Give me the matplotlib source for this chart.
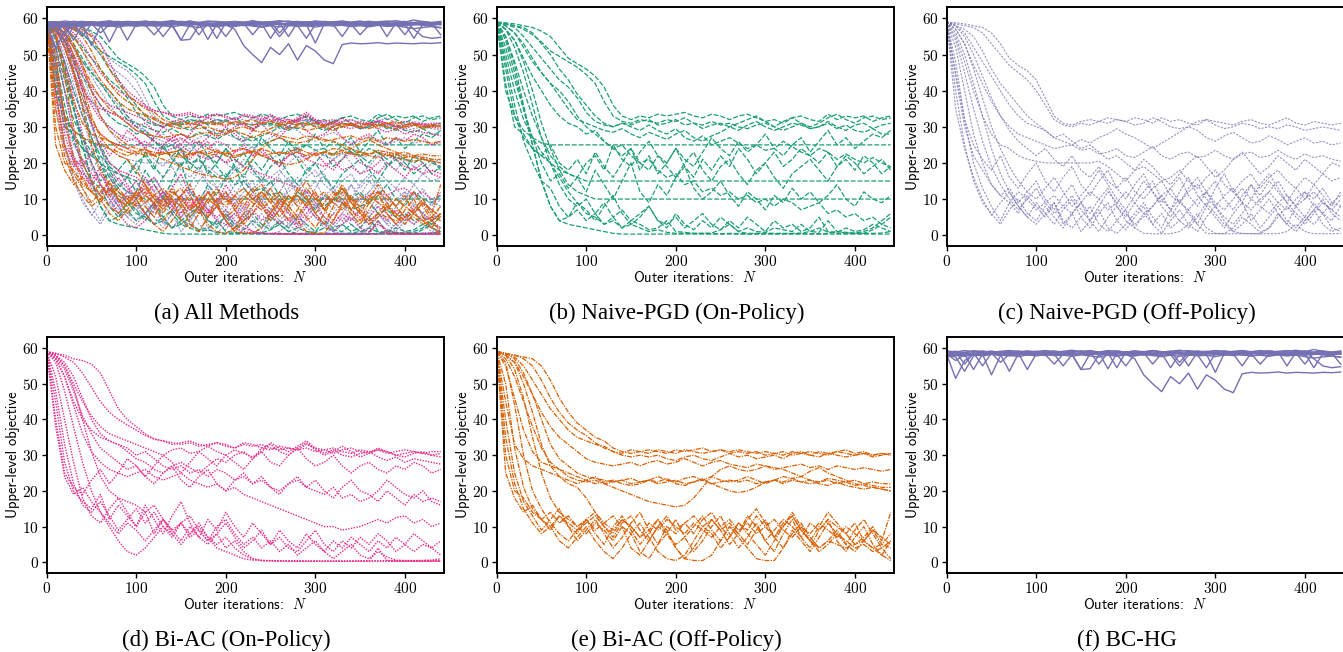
import numpy as np
import matplotlib.pyplot as plt

plt.rcParams["font.family"] = "cmr10"
plt.rcParams["mathtext.fontset"] = "cm"
plt.rcParams["axes.formatter.use_mathtext"] = True

# outer iterations at which each run was sampled
ITERS = np.arange(0, 450, 10)

# Naive-PGD (On-Policy) runs, upper-level objective
NAIVE_ON = [
    [59, 58.8, 58.5, 58, 57.5, 56.5, 55, 52, 49,
     47.5, 46, 44, 41, 36, 33, 32, 33, 32.5,
     33.5, 33, 33.5, 34, 33, 32.5, 33.5, 33, 32,
     33, 33.5, 32.5, 31.5, 32, 31, 32.5, 33, 32,
     31.5, 33.5, 32, 33, 32.5, 33, 31.5, 32.5, 33],
    [59, 58.5, 58, 57, 55.5, 53.5, 51, 49.5, 48,
     46.5, 44.5, 42, 37, 33, 31.5, 31, 32, 31.5,
     31, 32, 31.5, 32.5, 31, 30.5, 31.5, 30.5, 31,
     30, 29.5, 30.5, 31, 30, 29, 30, 31, 29.5,
     30, 31, 29.5, 30.5, 29, 28.5, 29.5, 28, 28],
    [59, 58.5, 57.5, 55, 52, 49, 46, 43, 41,
     38, 34, 31.5, 30.5, 30, 31, 30.5, 31.5, 32,
     30.5, 31, 32, 30.5, 31, 29.5, 30.5, 31, 30,
     29, 30.5, 31.5, 30, 29, 30, 31, 30.5, 29.5,
     30, 31.5, 30, 29, 30.5, 31, 29.5, 30.5, 31],
    [59, 58, 56, 52, 48, 45, 42, 38.5, 35,
     32, 31, 30, 29, 28.5, 29.5, 28, 27, 28.5,
     27.5, 26.5, 28, 29, 27, 26, 27.5, 28.5, 30,
     31, 32, 33, 31.5, 30, 31.5, 32.5, 31, 30,
     31, 32.5, 33.5, 32, 31, 32.5, 33, 32, 32.5],
    [59, 46, 33, 29, 27, 25.5, 25, 25, 25,
     25, 25, 25, 25, 25, 25, 25, 25, 25,
     25, 25, 25, 25, 25, 25, 25, 25, 25,
     25, 25, 25, 25, 25, 25, 25, 25, 25,
     25, 25, 25, 25, 25, 25, 25, 25, 25],
    [59, 55, 48, 40, 33, 27, 22, 19, 17,
     16, 15, 15, 15, 15, 15, 15, 15, 15,
     15, 15, 15, 15, 15, 15, 15, 15, 15,
     15, 15, 15, 15, 15, 15, 15, 15, 15,
     15, 15, 15, 15, 15, 15, 15, 15, 15],
    [59, 57, 54, 48, 40, 31, 24, 18, 14,
     12, 11, 10, 10, 10, 10, 10, 10, 10,
     10, 10, 10, 10, 10, 10, 10, 10, 10,
     10, 10, 10, 10, 10, 10, 10, 10, 10,
     10, 10, 10, 10, 10, 10, 10, 10, 10],
    [59, 54, 45, 35, 25, 15, 8, 4, 3,
     2.5, 2, 1.5, 1, 0.5, 0.3, 0.3, 0.3, 0.3,
     0.3, 0.3, 0.3, 0.3, 0.3, 0.3, 0.3, 0.3, 0.3,
     0.3, 0.3, 0.3, 0.3, 0.3, 0.3, 0.3, 0.3, 0.3,
     0.3, 0.3, 0.3, 0.3, 0.3, 0.3, 0.3, 0.3, 0.3],
    [59, 42, 30, 28, 24, 22, 25, 20, 18,
     21, 17, 23, 19, 16, 20, 24, 18, 22,
     17, 20, 24, 19, 16, 21, 18, 22, 19,
     24, 21, 17, 20, 23, 19, 21, 24, 22,
     20, 23, 19, 21, 18, 22, 20, 17, 19],
    [59, 52, 43, 35, 27, 20, 15, 17, 13,
     16, 12, 18, 14, 10, 15, 20, 12, 9,
     14, 11, 16, 19, 13, 10, 12, 15, 11,
     8, 12, 10, 7, 11, 9, 13, 10, 12,
     9, 11, 14, 10, 8, 12, 10, 9, 11],
    [59, 55, 47, 36, 25, 15, 8, 4, 5,
     7, 4, 6, 3, 5, 2, 4, 3, 1.5,
     2, 4, 1, 0.8, 0.5, 0.5, 0.6, 1.5, 3,
     1, 0.5, 0.5, 0.6, 0.5, 0.5, 0.5, 0.6, 1,
     2, 0.8, 0.5, 0.5, 0.6, 1, 2, 4, 6],
    [59, 57, 52, 45, 36, 27, 20, 14, 10,
     8, 10, 6, 9, 5, 7, 4, 6, 8,
     4, 3, 5, 2, 4, 6, 3, 1.5, 4,
     2, 5, 3, 1, 4, 2, 3, 1, 2,
     5, 1, 0.8, 2, 1, 1.5, 3, 2, 1],
    [59, 40, 33, 27, 24, 22, 20, 18, 17,
     16, 20, 22, 18, 25, 21, 19, 23, 26,
     22, 20, 24, 21, 19, 23, 27, 24, 22,
     26, 23, 25, 28, 24, 22, 25, 27, 23,
     26, 29, 25, 27, 24, 26, 28, 27, 29],
    [59, 50, 40, 32, 27, 23, 20, 16, 12,
     9, 6, 5, 3, 4, 2, 3, 2, 1,
     1.5, 0.8, 0.5, 0.5, 0.5, 0.5, 0.4, 0.4, 0.5,
     0.4, 0.4, 0.4, 0.4, 0.4, 0.4, 0.4, 0.4, 0.4,
     0.4, 0.5, 1, 0.8, 0.5, 0.5, 0.5, 0.6, 1],
    [59, 58, 56, 53, 49, 45, 42, 40, 37,
     33, 30, 28, 26, 24, 22, 24, 20, 18,
     22, 19, 16, 20, 23, 18, 15, 19, 21,
     17, 14, 18, 20, 16, 13, 17, 19, 21,
     18, 15, 19, 22, 20, 17, 19, 21, 18],
    [59, 57, 54, 49, 44, 40, 36, 33, 31,
     30, 28, 29, 26, 24, 25, 22, 20, 21,
     18, 16, 17, 14, 15, 12, 13, 11, 12,
     10, 11, 9, 10, 8, 10, 9, 7, 8,
     9, 6, 7, 5, 6, 4, 5, 3, 2],
    [59, 48, 36, 26, 20, 15, 13, 8, 5,
     9, 7, 4, 8, 11, 6, 3, 5, 8,
     4, 2, 6, 3, 1.5, 4, 2, 5, 3,
     1, 2, 1, 0.8, 2, 1.5, 1, 3, 1,
     0.8, 4, 1, 0.6, 0.5, 0.5, 1.5, 3, 5],
    [59, 58.5, 58, 57.5, 56, 53, 50, 46, 43,
     39, 36, 33, 31, 30, 31, 30, 29, 30.5,
     29, 28, 29.5, 27, 26, 27.5, 25, 26, 27,
     25.5, 24, 25, 23.5, 24, 26, 24.5, 23, 22,
     24, 23, 21, 22.5, 21, 20, 21.5, 20, 19],
]

# Naive-PGD (Off-Policy) runs
NAIVE_OFF = [
    [59, 58.8, 58.5, 58, 57.5, 56, 53, 49, 47,
     45.5, 43, 38, 33, 31, 30.5, 31.5, 32, 31.5,
     32.5, 32, 31.5, 32.5, 32, 31, 32.5, 31.5, 32,
     31, 30.5, 32, 31.5, 31, 30.5, 31.5, 32, 31,
     30.5, 31.5, 32.5, 31, 30.5, 31.5, 31, 30.5, 31],
    [59, 58.5, 58, 57.5, 56, 53, 50, 47, 45,
     43, 40, 36, 32, 30.5, 30, 31, 30.5, 31.5,
     31, 32, 31.5, 30.5, 31, 32.5, 31.5, 30, 29.5,
     30, 31.5, 32, 30.5, 29.5, 30, 31, 30.5, 29.5,
     30, 29.5, 30.5, 30, 29, 29.5, 30, 29.5, 29],
    [59, 58, 56, 52, 48, 44, 40, 36, 33,
     31, 30, 29, 27, 26, 25, 26.5, 25.5, 27,
     28, 29.5, 28, 27, 25.5, 24, 25.5, 27, 28.5,
     30, 29, 27, 26, 27.5, 28.5, 27, 25.5, 26,
     27.5, 26.5, 25, 26, 27, 25.5, 26, 25, 25.5],
    [59, 57, 53, 47, 42, 37, 33, 30, 28,
     27, 26, 25, 24, 24.5, 25, 23.5, 24, 22.5,
     23, 24, 22, 21.5, 23, 24.5, 22, 21, 22.5,
     23, 21.5, 22, 23.5, 22, 21, 22.5, 23, 21.5,
     22, 23.5, 22, 21, 22.5, 21.5, 22, 21, 20.5],
    [59, 55, 48, 40, 33, 28, 25, 24, 22,
     21, 20.5, 20, 20, 20, 20, 20, 20, 20.5,
     19, 17, 15, 18, 21, 19, 16, 14, 17,
     20, 22, 19, 16, 18, 21, 23, 20, 17,
     19, 22, 20, 18, 21, 19, 17, 20, 19],
    [59, 35, 24, 16, 10, 5.5, 9, 12, 8,
     5, 9, 6, 3, 7, 10, 5, 2, 6,
     9, 4, 1.5, 5, 8, 3, 6, 2, 4,
     7, 3, 0.5, 0.4, 0.4, 2, 5, 3, 0.8,
     2, 6, 3, 1, 4, 7, 3, 1, 2],
    [59, 48, 32, 20, 13, 8, 4, 9, 6,
     11, 8, 5, 9, 3, 6, 1, 4, 7,
     2, 0.5, 3, 6, 9, 5, 2, 7, 10,
     6, 3, 8, 5, 2, 6, 9, 4, 7,
     10, 6, 3, 8, 5, 9, 6, 4, 8],
    [59, 52, 40, 28, 20, 14, 11, 13, 9,
     12, 15, 10, 7, 11, 14, 9, 6, 10,
     13, 8, 5, 9, 12, 15, 10, 7, 12,
     16, 11, 8, 13, 17, 12, 9, 14, 11,
     15, 12, 9, 13, 10, 14, 11, 8, 12],
    [59, 56, 50, 42, 33, 24, 17, 12, 8,
     5, 3, 6, 9, 4, 2, 5, 8, 3,
     1, 4, 7, 2, 0.5, 0.4, 0.4, 0.4, 1,
     3, 6, 2, 0.5, 0.4, 0.4, 0.4, 0.4, 0.4,
     0.4, 0.4, 1, 3, 1, 0.4, 0.4, 0.4, 0.5],
    [59, 45, 32, 25, 21, 18, 22, 16, 13,
     17, 20, 15, 12, 16, 19, 14, 11, 15,
     18, 13, 10, 14, 17, 12, 9, 13, 16,
     11, 8, 12, 15, 10, 7, 11, 14, 9,
     12, 15, 11, 8, 12, 10, 13, 9, 11],
    [59, 57, 53, 46, 38, 30, 24, 19, 15,
     12, 10, 13, 16, 12, 8, 11, 14, 18,
     14, 10, 7, 11, 15, 12, 8, 5, 9,
     13, 16, 12, 8, 5, 3, 6, 10, 14,
     17, 13, 9, 6, 4, 7, 10, 6, 4],
    [59, 58, 57, 55, 51, 46, 42, 39, 36,
     33, 31, 29, 27, 28, 26, 24, 25, 23,
     21, 22, 20, 18, 19, 17, 15, 16, 18,
     15, 13, 16, 18, 14, 12, 15, 17, 13,
     16, 18, 15, 13, 16, 14, 17, 15, 16],
    [59, 40, 25, 15, 9, 6, 3, 7, 10,
     6, 4, 8, 5, 2, 6, 9, 4, 1,
     5, 8, 4, 2, 6, 3, 0.5, 4, 7,
     3, 1, 5, 8, 4, 1, 3, 6, 2,
     5, 8, 4, 2, 5, 3, 6, 2, 1],
    [59, 54, 45, 35, 26, 19, 14, 10, 7,
     10, 13, 9, 6, 8, 11, 7, 4, 8,
     12, 9, 6, 3, 5, 8, 11, 7, 4,
     2, 5, 9, 6, 3, 1, 0.5, 0.4, 0.4,
     2, 5, 8, 5, 3, 6, 9, 7, 5],
    [59, 58, 55, 50, 44, 38, 33, 29, 26,
     24, 22, 24, 21, 19, 22, 18, 16, 19,
     15, 13, 16, 12, 10, 13, 15, 11, 9,
     12, 14, 10, 8, 11, 13, 9, 7, 10,
     12, 9, 7, 10, 12, 8, 6, 9, 8],
    [59, 44, 30, 22, 18, 14, 11, 9, 12,
     10, 7, 9, 11, 8, 6, 9, 12, 10,
     7, 9, 12, 9, 6, 8, 11, 13, 9,
     7, 10, 12, 9, 7, 10, 13, 10, 8,
     6, 9, 11, 8, 10, 12, 9, 7, 10],
]

# Bi-AC (On-Policy) runs
BIAC_ON = [
    [59, 58.5, 58, 57, 56.5, 55.5, 53, 48, 43,
     40, 38, 36, 34.5, 34, 33.5, 33, 33.5, 32.5,
     33, 33.5, 32.5, 32, 33, 32.5, 33, 32, 31.5,
     32, 31.5, 32, 31, 31.5, 32, 31, 30.5, 31.5,
     31, 31.5, 30.5, 31, 31.5, 31, 30.5, 31, 31],
    [59, 58.5, 57.5, 56, 53, 49, 45, 42, 40,
     38.5, 37, 35.5, 34.5, 34, 33, 33.5, 34, 33,
     32.5, 33.5, 33, 32, 33.5, 33, 32, 31.5, 32.5,
     32, 31.5, 33, 32, 31.5, 30.5, 31.5, 32, 31,
     30.5, 31.5, 31, 30, 30.5, 31, 30.5, 30, 30.5],
    [59, 58, 55, 50, 45, 41, 38, 36, 35,
     34, 33, 32, 31, 30, 31.5, 32, 30.5, 31,
     32.5, 31, 30, 31.5, 30.5, 29.5, 31, 33.5, 32,
     31, 32.5, 34, 32, 30.5, 31.5, 30, 29.5, 30.5,
     31, 29.5, 28.5, 29.5, 28, 29, 28.5, 28, 27.5],
    [59, 57, 52, 45, 40, 37, 35, 34, 33,
     31, 29, 28, 26, 25, 27, 28, 26.5, 25,
     27, 29, 28, 30, 31, 29, 32, 33, 31,
     30, 32, 33.5, 31.5, 30, 31, 32.5, 31, 29.5,
     30.5, 32, 31, 30, 29.5, 30.5, 31, 30, 29.5],
    [59, 40, 25, 21, 19, 23, 26, 22, 25,
     29, 27, 24, 27, 30, 28, 25, 28, 31,
     29, 27, 30, 28, 26, 29, 31, 28, 27,
     30, 32, 29, 27, 28, 30, 27, 25, 27,
     28, 26, 25, 27, 26, 28, 27, 25, 26],
    [59, 45, 28, 20, 17, 15, 19, 12, 16,
     13, 10, 14, 8, 12, 9, 6, 10, 7,
     5, 8, 4, 6, 3, 1, 0.5, 0.4, 0.3,
     0.3, 0.3, 0.3, 0.3, 0.3, 0.3, 0.3, 0.3, 0.3,
     0.3, 0.3, 0.3, 0.3, 0.3, 0.3, 0.3, 0.3, 0.3],
    [59, 52, 40, 28, 18, 13, 11, 15, 18,
     14, 10, 16, 12, 8, 13, 17, 11, 7,
     12, 9, 14, 10, 7, 11, 8, 5, 9,
     6, 4, 8, 5, 3, 6, 4, 7, 5,
     3, 6, 4, 7, 5, 3, 5, 4, 2],
    [59, 56, 48, 38, 28, 20, 14, 10, 6,
     3, 2, 4, 7, 10, 8, 11, 7, 9,
     6, 8, 11, 7, 4, 6, 9, 5, 7,
     4, 3, 6, 9, 5, 3, 6, 4, 7,
     5, 8, 6, 3, 5, 8, 6, 4, 6],
    [59, 57.5, 54, 48, 41, 36, 32, 30, 28,
     26, 27, 24, 22, 25, 27, 23, 21, 24,
     26, 22, 20, 23, 25, 22, 24, 21, 19,
     22, 24, 21, 23, 20, 18, 21, 23, 20,
     19, 17, 20, 18, 16, 19, 17, 18, 17],
    [59, 58, 55, 49, 40, 31, 24, 20, 18,
     17, 16, 14, 16, 12, 9, 11, 8, 10,
     7, 5, 7, 4, 2, 1, 0.5, 0.5, 0.4,
     0.3, 0.3, 0.3, 0.3, 0.3, 0.3, 0.3, 0.3, 0.4,
     0.4, 0.4, 0.5, 0.4, 0.4, 0.4, 0.5, 0.6, 1],
    [59, 57, 52, 44, 36, 31, 28, 26, 25,
     24, 25, 26, 24, 23, 24, 25, 23, 22,
     21, 22, 20, 21, 19, 18, 17, 16, 15,
     14, 13, 12, 11, 10, 10, 9, 9.5, 10,
     11, 12, 11, 12.5, 13, 11, 12, 10, 11],
    [59, 48, 33, 22, 16, 14, 17, 13, 9,
     12, 15, 11, 14, 10, 7, 11, 13, 9,
     6, 10, 12, 8, 5, 7, 4, 6, 3,
     5, 2, 4, 6, 3, 1, 3, 5, 2,
     1, 3, 1.5, 0.6, 0.5, 0.5, 0.5, 0.5, 0.5],
    [59, 58, 56, 52, 46, 40, 36, 34, 33,
     32, 30, 31, 29, 27, 26, 27, 25, 26,
     24, 26, 25, 23, 24, 22, 23, 21, 20,
     22, 23, 21, 20, 19, 21, 18, 19, 17,
     18, 20, 23, 21, 19, 18, 20, 17, 16],
    [59, 38, 24, 19, 21, 17, 14, 11, 8,
     11, 9, 6, 9, 12, 8, 5, 8, 11,
     7, 4, 3, 2, 1, 0.6, 0.5, 0.4, 0.4,
     0.4, 0.4, 0.3, 0.3, 0.3, 0.3, 0.3, 0.3, 0.3,
     0.3, 4, 0.5, 0.3, 0.3, 0.3, 0.3, 0.3, 0.3],
]

# Bi-AC (Off-Policy) runs
BIAC_OFF = [
    [59, 58.5, 58, 57.5, 57, 55, 51, 46, 42,
     39, 37, 35, 34, 32, 31, 30.5, 31, 31.5,
     31, 30.5, 31.5, 31, 31.5, 32, 31, 31.5, 31,
     31.5, 31, 30.5, 31, 30.5, 30, 31, 30.5, 30,
     31, 30.5, 31, 31.5, 30.5, 31, 30, 30.5, 30],
    [59, 58.5, 58, 57, 55, 51, 46, 42, 39,
     37, 35.5, 33.5, 32, 31, 30.5, 31.5, 31, 30.5,
     31.5, 31, 30.5, 31.5, 31, 30.5, 31, 31.5, 30.5,
     31, 30.5, 31, 30, 30.5, 31, 30, 30.5, 31,
     30.5, 30, 31, 30.5, 30, 30.5, 30, 30.5, 30],
    [59, 58.5, 57.5, 55, 51, 47, 43, 40, 37,
     35, 34, 33, 32.5, 31, 30, 29.5, 30, 29.5,
     30, 29, 28.5, 29.5, 30, 29, 28.5, 29.5, 30.5,
     29.5, 30, 29, 29.5, 30, 29, 30.5, 31, 30,
     29.5, 30.5, 30, 29.5, 30, 30.5, 29.5, 30, 30.5],
    [59, 58, 56, 52, 47, 42, 38, 35, 33,
     31, 29, 28, 27.5, 27, 27.5, 28, 27, 28,
     28.5, 27.5, 28, 29, 28, 27, 28, 28.5, 27.5,
     27, 26.5, 27.5, 27, 26, 26.5, 27, 27.5, 26.5,
     27, 26, 27, 26.5, 26, 26.5, 26, 25.5, 26],
    [59, 57, 52, 45, 38, 32, 28, 26, 24,
     23, 22.5, 23, 22, 22.5, 23, 22, 22.5, 23,
     22, 22.5, 23, 22, 22.5, 23.5, 22, 22.5, 23,
     22.5, 23, 22, 22.5, 23, 22, 23, 22.5, 22,
     22.5, 23, 22, 22.5, 21.5, 22, 21.5, 21, 21],
    [59, 55, 46, 37, 31, 28, 27, 26, 25,
     24, 23, 22, 22.5, 23, 22, 21.5, 22, 23,
     22.5, 23.5, 22, 21.5, 22.5, 23, 24, 23, 22.5,
     23, 24, 23, 22, 23, 24, 23.5, 22.5, 23,
     22, 21.5, 22.5, 21.5, 21, 20.5, 21, 20.5, 20],
    [59, 45, 33, 29, 27, 26, 25, 24, 23,
     22, 23, 24, 22, 21, 20, 19, 18, 17,
     16.5, 16, 15.5, 16, 18, 21, 24, 26, 27,
     26, 25.5, 26, 27, 26.5, 26, 25, 24, 25.5,
     26.5, 25, 24, 23, 22, 21.5, 21, 20.5, 20],
    [59, 58.5, 57, 53, 47, 40, 33, 29, 27,
     25, 24, 23.5, 23, 22.5, 23, 23.5, 22.5, 23,
     24, 23, 22.5, 23.5, 24, 23, 22, 21, 20,
     19.5, 20, 21, 22.5, 23, 22.5, 23.5, 24, 23,
     22.5, 23.5, 23, 22.5, 23, 22, 22.5, 22, 22],
    [59, 30, 20, 18, 14, 12, 10, 13, 11,
     9, 11, 13, 10, 8, 12, 10, 7, 11,
     9, 12, 10, 8, 11, 9, 7, 10, 12,
     9, 11, 8, 10, 12, 9, 7, 10, 8,
     11, 9, 7, 10, 8, 6, 9, 7, 5],
    [59, 40, 25, 17, 13, 9, 12, 15, 10,
     6, 9, 12, 8, 4, 7, 11, 14, 9,
     5, 8, 12, 7, 3, 6, 10, 13, 8,
     4, 7, 11, 6, 3, 8, 12, 7, 4,
     9, 12, 6, 3, 7, 10, 5, 2, 6],
    [59, 50, 32, 21, 15, 12, 14, 11, 13,
     10, 12, 9, 11, 13, 10, 8, 3, 1,
     5, 10, 8, 11, 13, 10, 12, 9, 11,
     8, 13, 10, 6, 9, 12, 10, 7, 11,
     9, 12, 10, 8, 11, 6, 9, 5, 8],
    [59, 56, 44, 30, 20, 15, 11, 8, 6,
     9, 12, 8, 5, 10, 13, 9, 5, 8,
     12, 9, 4, 1, 0.5, 0.5, 2, 6, 10,
     7, 4, 1, 0.5, 0.5, 4, 9, 6, 3,
     7, 11, 8, 5, 9, 12, 8, 4, 1],
    [59, 58, 54, 46, 35, 25, 18, 14, 12,
     10, 8, 11, 9, 6, 10, 4, 2, 6,
     10, 8, 4, 1, 4, 8, 12, 9, 5,
     8, 12, 15, 11, 7, 10, 13, 9, 6,
     10, 14, 11, 8, 5, 7, 10, 6, 14],
    [59, 58, 56, 50, 42, 33, 27, 24, 22,
     21, 18, 14, 11, 9, 12, 10, 7, 9,
     12, 8, 5, 7, 10, 13, 9, 6, 10,
     8, 5, 9, 12, 7, 4, 8, 11, 7,
     4, 6, 9, 5, 3, 6, 4, 2, 0.5],
    [59, 25, 18, 14, 16, 12, 9, 13, 10,
     8, 12, 14, 10, 7, 11, 13, 9, 6,
     10, 13, 9, 11, 8, 12, 14, 10, 7,
     11, 9, 13, 10, 7, 11, 13, 9, 6,
     4, 6, 5, 4, 5, 6, 4, 5, 4],
    [59, 35, 22, 15, 11, 8, 10, 6, 4,
     7, 10, 6, 3, 1, 4, 8, 11, 7,
     3, 1, 0.5, 2, 6, 10, 8, 4, 7,
     11, 8, 5, 2, 6, 10, 14, 10, 6,
     3, 5, 8, 6, 4, 5, 3, 4, 6],
]

# BC-HG runs
BCHG = [
    [58.8, 59.0, 58.7, 59.2, 58.9, 59.1, 58.8, 59.3, 58.9,
     59.1, 58.7, 59.2, 59.0, 58.8, 59.2, 58.9, 59.3, 58.8,
     59.1, 59.2, 58.9, 59.1, 58.8, 59.3, 59.0, 58.8, 59.1,
     59.3, 58.9, 59.0, 59.2, 58.8, 59.1, 59.3, 58.9, 59.0,
     59.2, 58.8, 59.1, 59.4, 59.0, 59.6, 59.1, 58.9, 59.2],
    [58.2, 51.5, 56.5, 58.3, 58.6, 58.4, 58.7, 58.5, 58.8,
     58.4, 58.6, 58.9, 58.5, 58.7, 58.3, 58.6, 58.8, 58.4,
     58.7, 58.5, 58.8, 58.3, 58.6, 58.9, 58.5, 58.7, 58.4,
     58.6, 58.8, 58.5, 58.7, 58.3, 58.6, 58.8, 58.4, 58.7,
     58.5, 58.8, 58.4, 58.6, 58.9, 58.5, 58.7, 58.4, 58.6],
    [58.0, 57.5, 53.5, 57.8, 58.3, 52.5, 57.9, 58.4, 58.1,
     58.5, 58.2, 58.6, 58.3, 55.0, 58.2, 58.5, 58.1, 58.6,
     58.3, 58.7, 58.2, 58.5, 58.0, 58.4, 58.6, 58.2, 58.5,
     58.1, 58.6, 58.3, 58.7, 58.4, 58.2, 58.6, 58.3, 58.7,
     58.4, 58.1, 58.5, 58.3, 58.6, 58.2, 58.5, 58.3, 58.6],
    [58.4, 56.5, 58.2, 54.0, 58.3, 58.6, 58.2, 53.5, 58.4,
     58.7, 58.3, 58.6, 58.2, 58.5, 58.1, 54.0, 58.4, 58.7,
     58.3, 58.6, 58.2, 58.5, 58.8, 58.4, 58.6, 54.5, 58.3,
     58.7, 58.4, 58.6, 58.2, 58.5, 58.8, 58.4, 58.6, 58.3,
     58.7, 58.4, 58.6, 58.2, 58.5, 58.8, 58.4, 58.6, 58.3],
    [58.6, 58.3, 58.7, 58.4, 58.8, 58.5, 58.7, 58.3, 58.6,
     54.0, 58.4, 58.7, 58.5, 58.8, 58.4, 58.6, 58.3, 58.7,
     54.2, 58.5, 58.8, 58.4, 58.6, 58.3, 58.7, 58.5, 58.8,
     58.4, 58.6, 58.3, 53.2, 58.5, 58.8, 58.4, 58.6, 58.3,
     58.7, 58.4, 58.6, 58.2, 58.5, 54.5, 58.4, 58.6, 58.3],
    [58.9, 59.1, 58.8, 59.2, 58.9, 59.1, 58.7, 59.0, 59.2,
     58.8, 59.1, 58.9, 59.2, 58.8, 59.0, 59.2, 58.9, 55.5,
     58.7, 54.5, 58.9, 59.1, 58.8, 59.2, 58.9, 59.1, 58.8,
     55.0, 58.9, 59.1, 58.8, 59.2, 58.9, 59.1, 58.8, 59.0,
     59.2, 58.9, 55.0, 58.8, 59.1, 58.9, 59.2, 58.8, 59.0],
    [58.3, 57.8, 58.5, 58.2, 58.6, 58.3, 58.7, 58.4, 58.2,
     58.5, 58.3, 58.6, 58.4, 58.2, 58.5, 58.3, 58.6, 58.4,
     58.2, 58.5, 58.3, 57.0, 52.5, 50.0, 47.8, 52.0, 50.0,
     53.0, 48.5, 52.5, 51.0, 48.5, 47.5, 52.8, 53.2, 53.0,
     53.1, 53.3, 53.0, 53.2, 53.1, 53.0, 53.2, 53.1, 53.3],
    [58.5, 58.8, 58.4, 58.7, 55.0, 58.6, 58.3, 58.7, 58.5,
     58.8, 58.4, 58.6, 58.9, 58.5, 58.7, 58.4, 58.8, 58.5,
     58.7, 58.4, 58.6, 58.3, 58.7, 55.5, 58.5, 58.8, 58.4,
     58.7, 58.5, 58.8, 58.4, 58.6, 58.3, 55.0, 58.6, 58.9,
     58.5, 58.7, 58.4, 58.8, 58.5, 58.7, 58.4, 58.6, 55.5],
    [57.8, 58.2, 57.9, 58.3, 58.0, 58.4, 58.1, 57.8, 58.2,
     58.0, 58.3, 57.9, 58.2, 58.0, 58.3, 54.0, 54.2, 58.1,
     58.3, 57.9, 58.2, 58.0, 58.4, 58.1, 57.8, 58.2, 55.0,
     58.0, 58.3, 57.9, 58.2, 58.0, 58.4, 58.1, 57.8, 58.2,
     58.0, 58.3, 57.9, 58.2, 58.0, 58.4, 58.1, 57.8, 57.5],
    [59.2, 58.9, 59.3, 59.0, 59.2, 58.8, 59.1, 59.3, 58.9,
     59.2, 59.0, 59.3, 58.9, 59.1, 59.4, 59.0, 59.2, 58.9,
     59.3, 59.1, 58.9, 59.2, 59.0, 59.3, 58.9, 59.1, 59.4,
     59.0, 59.2, 58.9, 59.3, 59.1, 58.9, 59.2, 59.0, 59.3,
     58.9, 59.1, 59.3, 59.0, 59.2, 57.0, 55.0, 54.5, 54.8],
    [58.1, 58.4, 58.0, 58.5, 58.2, 58.6, 56.0, 58.3, 58.5,
     58.1, 58.4, 58.2, 55.5, 58.3, 58.6, 58.2, 58.5, 58.1,
     58.4, 58.2, 55.0, 58.3, 58.5, 58.1, 58.4, 58.2, 58.6,
     58.3, 58.1, 54.5, 58.4, 58.2, 58.5, 58.1, 58.4, 55.5,
     58.2, 58.5, 58.1, 58.4, 58.2, 58.6, 58.3, 58.1, 58.4],
    [58.7, 58.9, 55.5, 58.6, 58.8, 59.0, 58.7, 58.9, 58.6,
     58.8, 59.0, 58.7, 58.9, 58.6, 58.8, 59.1, 58.7, 58.9,
     58.6, 58.8, 59.0, 58.7, 58.9, 58.6, 58.8, 59.0, 56.0,
     58.7, 58.9, 58.6, 58.8, 59.0, 58.7, 58.9, 58.6, 58.8,
     59.0, 58.7, 58.9, 58.6, 55.5, 58.8, 59.0, 58.7, 58.9],
    [57.5, 58.0, 57.7, 58.1, 57.8, 58.2, 57.9, 58.0, 57.6,
     58.1, 57.8, 58.2, 57.9, 58.0, 57.7, 58.1, 57.8, 57.5,
     58.0, 57.7, 58.1, 57.8, 58.2, 57.9, 57.6, 58.0, 57.7,
     58.1, 57.8, 58.0, 57.6, 58.1, 57.9, 58.2, 57.8, 58.0,
     57.7, 58.1, 57.8, 58.0, 57.6, 57.2, 57.5, 57.8, 57.4],
]

CAPTIONS = ["(a) All Methods", "(b) Naive-PGD (On-Policy)",
            "(c) Naive-PGD (Off-Policy)", "(d) Bi-AC (On-Policy)",
            "(e) Bi-AC (Off-Policy)", "(f) BC-HG"]

STYLES = {
    "naive_on": dict(color="#1b9e77", lw=0.9, ls=(0, (4, 1.5))),
    "naive_off": dict(color="#7570b3", lw=0.8, ls=(0, (2, 1.2)), alpha=0.75),
    "biac_on": dict(color="#e7298a", lw=1.0, ls=(0, (1, 1))),
    "biac_off": dict(color="#d95f02", lw=0.9, ls=(0, (4, 1, 1, 1))),
    "bchg": dict(color="#7570b3", lw=1.0, ls="-"),
}
RUNS = {"naive_on": NAIVE_ON, "naive_off": NAIVE_OFF, "biac_on": BIAC_ON,
        "biac_off": BIAC_OFF, "bchg": BCHG}


def draw_runs(ax, key):
    for y in RUNS[key]:
        n = min(len(y), len(ITERS))
        ax.plot(ITERS[:n], y[:n], **STYLES[key])


W, H = 1343, 652
fig = plt.figure(figsize=(W / 100, H / 100), dpi=100)

lefts = [46.7, 496.7, 946.7]
rows = [(7.3, 246.0), (337.0, 573.0)]
panel_keys = [["naive_on", "biac_on", "naive_off", "biac_off", "bchg"],
              ["naive_on"], ["naive_off"], ["biac_on"], ["biac_off"], ["bchg"]]

for i in range(6):
    r, c = divmod(i, 3)
    top, bot = rows[r]
    ax = fig.add_axes([lefts[c] / W, 1 - bot / H, 397.6 / W, (bot - top) / H])
    for key in panel_keys[i]:
        draw_runs(ax, key)
    ax.set_xlim(0, 444)
    ax.set_ylim(-3, 63.1)
    ax.set_xticks([0, 100, 200, 300, 400])
    ax.set_yticks([0, 10, 20, 30, 40, 50, 60])
    ax.tick_params(direction="out", length=3.5, width=1.0, labelsize=11,
                   pad=2, colors="black")
    for s in ax.spines.values():
        s.set_linewidth(1.4)
    ax.set_xlabel("Outer iterations:  $N$", fontfamily="cmss10", fontsize=10.5,
                  labelpad=1)
    ax.set_ylabel("Upper-level objective", fontfamily="cmss10", fontsize=10.5,
                  labelpad=2)
    cap_y = 313 if r == 0 else 640
    fig.text((226.7 + 450 * c) / W, 1 - cap_y / H, CAPTIONS[i],
             ha="center", va="center", fontfamily="Liberation Serif",
             fontsize=16.5)

fig.savefig("out.png", dpi=100)
